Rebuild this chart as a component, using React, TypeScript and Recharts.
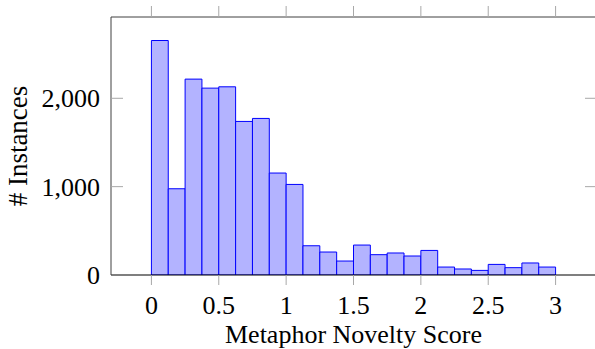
import React from 'react';
import { ComposedChart, Bar, XAxis, YAxis } from 'recharts';

const binCenters = [0.0625, 0.1875, 0.3125, 0.4375, 0.5625, 0.6875, 0.8125, 0.9375, 1.0625, 1.1875, 1.3125, 1.4375, 1.5625, 1.6875, 1.8125, 1.9375, 2.0625, 2.1875, 2.3125, 2.4375, 2.5625, 2.6875, 2.8125, 2.9375];
const counts = [2654, 976, 2217, 2115, 2130, 1738, 1772, 1154, 1025, 331, 260, 158, 339, 230, 249, 215, 278, 90, 68, 52, 120, 83, 136, 90];
const xTicks = [0, 0.5, 1, 1.5, 2, 2.5, 3];
const yTicks = [0, 1000, 2000];
const xDomain = [-0.3, 3.3];
const yDomain = [0, 2920];
const xTitle = 'Metaphor Novelty Score';
const yTitle = '# Instances';

const data = binCenters.map((c, i) => ({ x: c, count: counts[i] }));

const FONT = '"Liberation Serif", "Times New Roman", serif';
const TICK_COLOR = '#a8a8a8';
const FRAME_COLOR = '#404040';

const BottomTick = (props: any) => {
  const { x, y, payload } = props;
  return (
    <g>
      <line x1={x} y1={y} x2={x} y2={y + 10} stroke={TICK_COLOR} strokeWidth={1} />
      <text x={x} y={y + 39} textAnchor="middle" fontFamily={FONT} fontSize={26} fill="#000">
        {String(payload.value)}
      </text>
    </g>
  );
};

const TopTick = (props: any) => {
  const { x, y } = props;
  return <line x1={x} y1={y} x2={x} y2={y - 11} stroke={TICK_COLOR} strokeWidth={1} />;
};

const LeftTick = (props: any) => {
  const { x, y, payload } = props;
  return (
    <g>
      {payload.value !== 0 && <line x1={x} y1={y} x2={x + 12} y2={y} stroke={TICK_COLOR} strokeWidth={1} />}
      <text x={x - 11} y={y + 9} textAnchor="end" fontFamily={FONT} fontSize={26} fill="#000">
        {Number(payload.value).toLocaleString('en-US')}
      </text>
    </g>
  );
};

const RightTick = (props: any) => {
  const { x, y, payload } = props;
  if (payload.value === 0) return <g />;
  return <line x1={x} y1={y} x2={x - 11} y2={y} stroke={TICK_COLOR} strokeWidth={1} />;
};

export default function App() {
  return (
    <div style={{ position: 'absolute', left: 0, top: 0, width: 595, height: 349, overflow: 'hidden', background: '#fff' }}>
      <ComposedChart width={600} height={349} data={data} margin={{ top: 0, right: 4, bottom: 0, left: 0 }}>
        <XAxis
          xAxisId="bottom"
          dataKey="x"
          type="number"
          domain={xDomain}
          ticks={xTicks}
          interval={0}
          height={74}
          tickSize={0}
          tickMargin={0}
          tickLine={false}
          axisLine={{ stroke: '#000', strokeWidth: 1.2 }}
          tick={BottomTick}
          allowDataOverflow
          label={{
            content: (p: any) => {
              const vb = p.viewBox;
              return (
                <text x={vb.x + vb.width / 2} y={vb.y + 68} textAnchor="middle" fontFamily={FONT} fontSize={26} fill="#000">
                  {xTitle}
                </text>
              );
            },
          }}
        />
        <XAxis
          xAxisId="top"
          dataKey="x"
          orientation="top"
          type="number"
          domain={xDomain}
          ticks={xTicks}
          interval={0}
          height={17}
          tickSize={0}
          tickMargin={0}
          tickLine={false}
          axisLine={{ stroke: FRAME_COLOR, strokeWidth: 1 }}
          tick={TopTick}
          allowDataOverflow
        />
        <YAxis
          yAxisId="left"
          dataKey="count"
          type="number"
          domain={yDomain}
          ticks={yTicks}
          interval={0}
          width={111}
          tickSize={0}
          tickMargin={0}
          tickLine={false}
          axisLine={{ stroke: FRAME_COLOR, strokeWidth: 1 }}
          tick={LeftTick}
          allowDataOverflow
          label={{
            content: (p: any) => {
              const vb = p.viewBox;
              const cx = 18;
              const cy = vb.y + vb.height / 2;
              return (
                <text x={cx} y={cy} transform={`rotate(-90, ${cx}, ${cy})`} textAnchor="middle" dominantBaseline="central" fontFamily={FONT} fontSize={27} fill="#000">
                  {yTitle}
                </text>
              );
            },
          }}
        />
        <YAxis
          yAxisId="right"
          dataKey="count"
          orientation="right"
          mirror
          type="number"
          domain={yDomain}
          ticks={yTicks}
          interval={0}
          width={1}
          tickSize={0}
          tickMargin={0}
          tickLine={false}
          axisLine={{ stroke: FRAME_COLOR, strokeWidth: 1 }}
          tick={RightTick}
          allowDataOverflow
        />
        <Bar
          xAxisId="bottom"
          yAxisId="left"
          dataKey="count"
          barSize={16.84}
          fill="#b3b3ff"
          stroke="#0000ff"
          strokeWidth={1}
          isAnimationActive={false}
        />
      </ComposedChart>
    </div>
  );
}
